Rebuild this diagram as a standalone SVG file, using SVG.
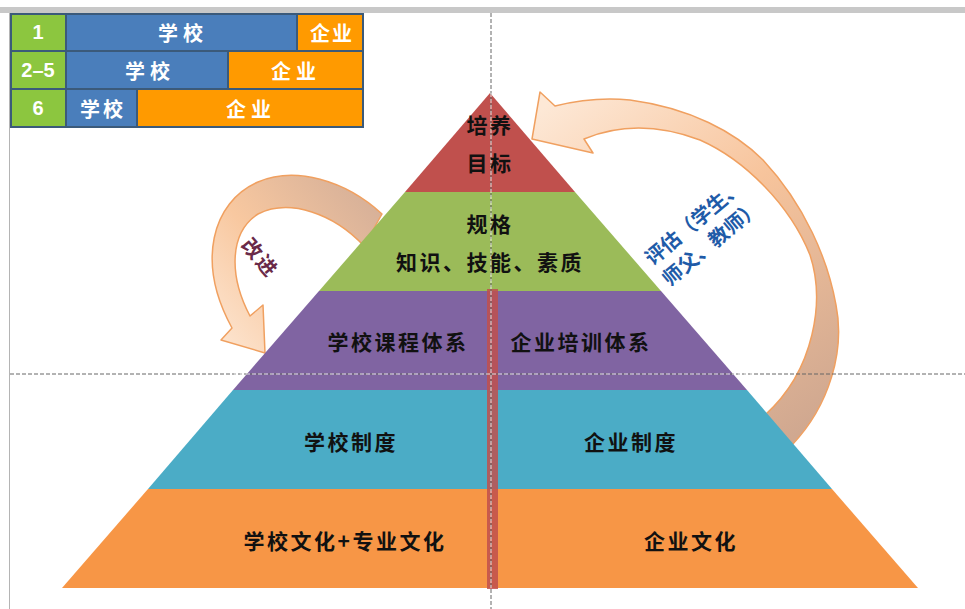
<svg xmlns="http://www.w3.org/2000/svg" width="965" height="609" viewBox="0 0 965 609">
<defs>
<style>
.cjk{font-family:"Noto Sans CJK SC","Noto Sans",sans-serif;font-weight:bold;}
.lat{font-family:"Liberation Sans",Arial,sans-serif;font-weight:bold;}
.tw{fill:#ffffff;font-size:20px;text-anchor:middle;dominant-baseline:central;}
.pt{fill:#111111;font-size:21px;letter-spacing:2.5px;text-anchor:middle;dominant-baseline:central;}
.grn{fill:#8CC63F;}
.blu{fill:#4A7EBB;}
.org{fill:#FF9A00;}
.arrow{stroke:#F0A060;stroke-width:1.5;stroke-linejoin:round;}
.dotd{stroke:#666666;stroke-width:1;stroke-dasharray:4 2;fill:none;}
.dotw{stroke:#ffffff;stroke-width:1;stroke-dasharray:4 2;fill:none;opacity:0.8;}
</style>
<linearGradient id="gL" x1="210" y1="340" x2="380" y2="200" gradientUnits="userSpaceOnUse">
<stop offset="0" stop-color="#FDE6D2"/>
<stop offset="0.45" stop-color="#F8C8A0"/>
<stop offset="1" stop-color="#D5AF98"/>
</linearGradient>
<linearGradient id="gR" x1="540" y1="110" x2="790" y2="440" gradientUnits="userSpaceOnUse">
<stop offset="0" stop-color="#FDE8D6"/>
<stop offset="0.45" stop-color="#F7C49C"/>
<stop offset="1" stop-color="#D0A890"/>
</linearGradient>
</defs>
<rect width="965" height="609" fill="#ffffff"/>
<rect x="0" y="7" width="965" height="6" fill="#C8C8C8"/>
<line x1="9.5" y1="13" x2="9.5" y2="609" stroke="#B4B4B4" stroke-width="1"/>

<g id="connectors">
<path id="arrow-improve" class="arrow" fill="url(#gL)" d="M 382,214 C 345,180 295,166 258,182 C 212,202 196,262 232,328 L 221,340 L 265,353 L 263,305 L 250,316 C 228,274 230,232 258,214 C 290,198 334,214 364,246 Z"/>
<path id="arrow-evaluate" class="arrow" fill="url(#gR)" d="M 792,445 C 830,405 845,350 836,305 C 828,260 805,205 763,160 C 735,132 690,108 630,100 C 600,97 575,101 555,106 L 540,92 L 532,139 L 593,153 L 584,139 C 620,124 660,125 700,140 C 745,160 790,205 810,255 C 825,300 815,370 765,415 Z"/>
</g>

<g id="pyramid">
<polygon id="layer-goal" points="490,93 575,192 405,192" fill="#C0504D"/>
<polygon id="layer-spec" points="405,192 575,192 661,291 319,291" fill="#9BBB59"/>
<polygon id="layer-course" points="319,291 661,291 747,390 233,390" fill="#8064A2"/>
<polygon id="layer-system" points="233,390 747,390 832,489 148,489" fill="#4BACC6"/>
<polygon id="layer-culture" points="148,489 832,489 918,588 62,588" fill="#F79646"/>
<rect id="divider" x="487" y="289" width="11" height="300" fill="#C0504D" opacity="0.85"/>
</g>

<g id="guides">
<line class="dotd" x1="491" y1="13" x2="491" y2="609"/>
<line class="dotd" x1="10" y1="374" x2="965" y2="374"/>
<line class="dotw" x1="491" y1="93" x2="491" y2="588"/>
<line class="dotw" x1="234" y1="374" x2="753" y2="374"/>
</g>

<g id="pyramid-labels" class="cjk">
<text class="pt" x="490" y="124">培养</text>
<text class="pt" x="490" y="162">目标</text>
<text class="pt" x="490" y="223">规格</text>
<text class="pt" x="490" y="261">知识、技能、素质</text>
<text class="pt" x="398" y="341">学校课程体系</text>
<text class="pt" x="581" y="341">企业培训体系</text>
<text class="pt" x="351" y="441">学校制度</text>
<text class="pt" x="631" y="441">企业制度</text>
<text class="pt" x="345" y="540">学校文化+专业文化</text>
<text class="pt" x="691" y="540">企业文化</text>
</g>

<g id="label-improve" class="cjk">
<text x="261" y="257" transform="rotate(50 261 257)" fill="#6A2A48" font-size="20" text-anchor="middle" dominant-baseline="central" letter-spacing="2">改进</text>
</g>
<g id="label-evaluate" class="cjk" transform="translate(702 232) rotate(-40)">
<text x="0" y="-14" fill="#1F5BA8" font-size="20" text-anchor="middle" dominant-baseline="central">评估（学生、</text>
<text x="0" y="13" fill="#1F5BA8" font-size="20" text-anchor="middle" dominant-baseline="central">师父、教师）</text>
</g>

<g id="table">
<rect x="10" y="13" width="354" height="115" fill="#3B5A7A"/>
<g id="row1">
<rect class="grn" x="12" y="15" width="53" height="35"/>
<rect class="blu" x="67" y="15" width="229" height="35"/>
<rect class="org" x="298" y="15" width="64" height="35"/>
<text class="lat tw" x="38" y="32">1</text>
<text class="cjk tw" x="183" y="32" letter-spacing="5">学校</text>
<text class="cjk tw" x="332" y="32" letter-spacing="2">企业</text>
</g>
<g id="row2">
<rect class="grn" x="12" y="52" width="53" height="36"/>
<rect class="blu" x="67" y="52" width="160" height="36"/>
<rect class="org" x="229" y="52" width="133" height="36"/>
<text class="lat tw" x="38" y="70">2–5</text>
<text class="cjk tw" x="150" y="70" letter-spacing="5">学校</text>
<text class="cjk tw" x="296" y="70" letter-spacing="5">企业</text>
</g>
<g id="row3">
<rect class="grn" x="12" y="90" width="53" height="36"/>
<rect class="blu" x="67" y="90" width="69" height="36"/>
<rect class="org" x="138" y="90" width="224" height="36"/>
<text class="lat tw" x="38" y="108">6</text>
<text class="cjk tw" x="103" y="108" letter-spacing="3">学校</text>
<text class="cjk tw" x="251" y="108" letter-spacing="5">企业</text>
</g>
</g>
</svg>
